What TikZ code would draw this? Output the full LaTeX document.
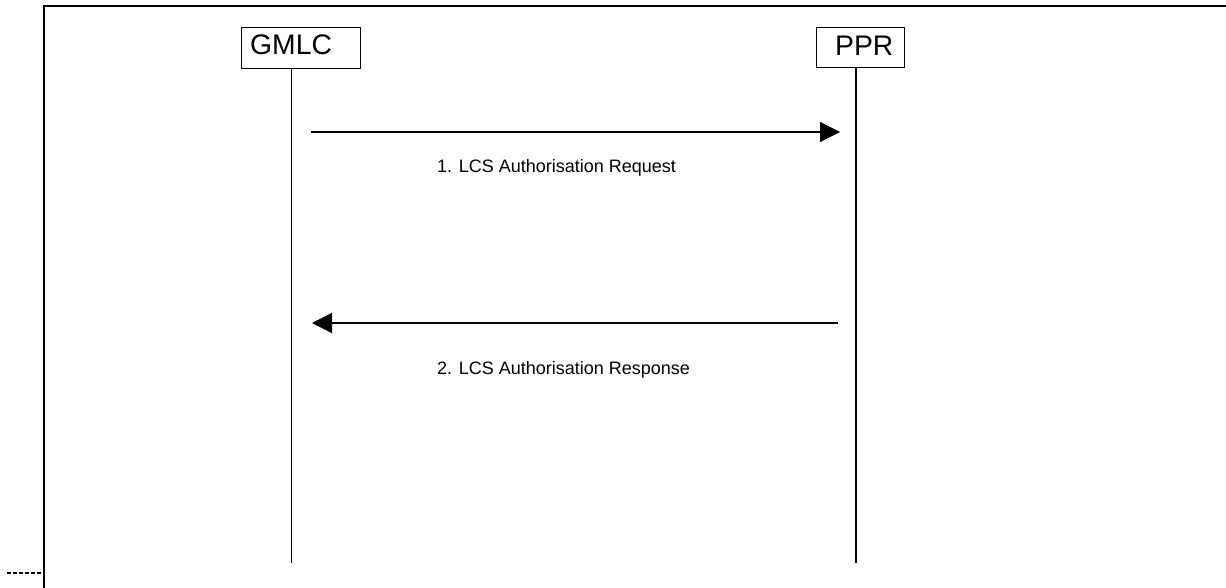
\documentclass[tikz,border=0pt]{standalone}
\usepackage{fontspec}
\setmainfont{Liberation Sans}
\usetikzlibrary{arrows.meta}
\begin{document}
\begin{tikzpicture}[x=1pt,y=-1pt,
  entity/.style={draw,line width=1pt,inner sep=0pt},
  lifeline/.style={line width=1.1pt},
  msg/.style={line width=1.3pt,-{Triangle[length=20pt,width=20pt]}},
  msglabel/.style={font=\fontsize{18}{20}\selectfont,inner sep=0pt,anchor=base west},
  entlabel/.style={font=\fontsize{28.3}{30}\selectfont,inner sep=0pt,anchor=base west}]
\useasboundingbox (0,0) rectangle (1226,588);
% frame
\draw[line width=2pt] (43.5,588) -- (43.5,6.5) -- (1226,6.5);
\coordinate (dl) at (7,573);
\coordinate (dr) at (43,573);
\draw[line width=2.5pt,dash pattern=on 4pt off 2pt] (dl) -- (dr);
% entities
\node[entity,minimum width=119pt,minimum height=41pt] (gmlc) at (300.5,48.5) {};
\node[entlabel] (gmlct) at (250,55) {GMLC};
\node[entity,minimum width=88pt,minimum height=40pt] (ppr) at (860,48) {};
\node[entlabel] (pprt) at (835,56) {PPR};
% lifelines
\coordinate (gmlcend) at (291.5,563);
\coordinate (pprend) at (856,563);
\draw[lifeline] (gmlc.south -| gmlcend) -- (gmlcend);
\draw[lifeline] (ppr.south -| pprend) -- (pprend);
% messages
\coordinate (m1s) at (311,132);
\coordinate (m1e) at (840,132);
\draw[msg] (m1s) -- (m1e);
\node[msglabel] (l1) at (437,173) {1. LCS Authorisation Request};
\coordinate (m2s) at (838,323);
\coordinate (m2e) at (312,323);
\draw[msg] (m2s) -- (m2e);
\node[msglabel] (l2) at (437,374) {2. LCS Authorisation Response};
\end{tikzpicture}
\end{document}
